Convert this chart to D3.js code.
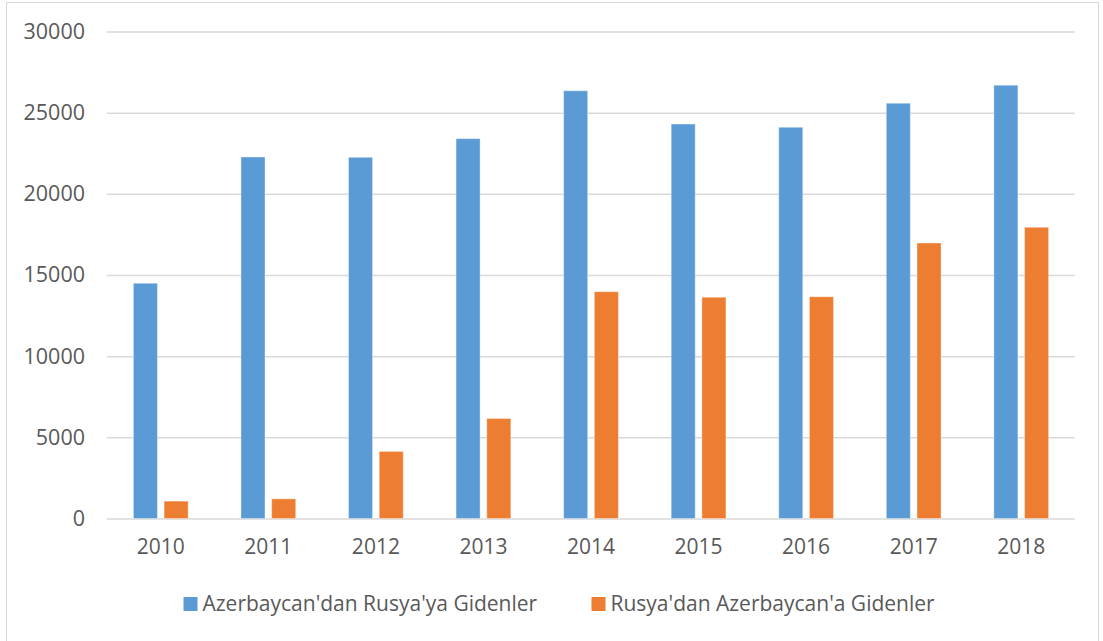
<!DOCTYPE html>
<html>
<head>
<meta charset="utf-8">
<script src="https://cdn.jsdelivr.net/npm/d3@7"></script>
<style>
  html, body { margin: 0; padding: 0; background: #fff; }
  svg text { font-family: "Open Sans", sans-serif; fill: #595959; }
</style>
</head>
<body>
<div id="chart"></div>
<script>
// Data
const years = ["2010", "2011", "2012", "2013", "2014", "2015", "2016", "2017", "2018"];
const seriesNames = ["Azerbaycan'dan Rusya'ya Gidenler", "Rusya'dan Azerbaycan'a Gidenler"];
const azToRu = [14490, 22270, 22250, 23400, 26350, 24300, 24100, 25580, 26690];
const ruToAz = [1070, 1210, 4130, 6160, 13970, 13630, 13660, 16970, 17940];
const yTicks = [0, 5000, 10000, 15000, 20000, 25000, 30000];
const colors = ["#5B9BD5", "#ED7D31"];

const W = 1103, H = 641;
const margin = { top: 31.5, right: 28, bottom: 122.5, left: 107 };
const width = W - margin.left - margin.right;
const height = H - margin.top - margin.bottom;

const svg = d3.select("#chart")
  .append("svg")
    .attr("width", W)
    .attr("height", H);

// outer frame
svg.append("rect")
    .attr("x", 6.5).attr("y", 2.5)
    .attr("width", W - 11).attr("height", H + 10)
    .attr("fill", "none")
    .attr("stroke", "#D9D9D9")
    .attr("stroke-width", 1);

const g = svg.append("g")
    .attr("transform", `translate(${margin.left},${margin.top})`);

// Scales
const x = d3.scaleBand()
    .domain(years)
    .range([0, width])
    .padding(0);

const xSub = d3.scaleBand()
    .domain(seriesNames)
    .range([0, x.bandwidth()])
    .paddingInner(0.218)
    .paddingOuter(0.86);

const y = d3.scaleLinear()
    .domain([0, 30000])
    .range([height, 0]);

const color = d3.scaleOrdinal().domain(seriesNames).range(colors);

// Gridlines + y labels
const yAxis = g.append("g")
    .call(d3.axisLeft(y).tickValues(yTicks).tickFormat(d3.format("d")).tickSize(-width).tickPadding(22));
yAxis.select(".domain").remove();
yAxis.selectAll(".tick line")
    .attr("stroke", "#D9D9D9")
    .attr("stroke-width", 1.5);
yAxis.selectAll(".tick text")
    .attr("font-size", "21.5px")
    .style("font-family", "'Open Sans', sans-serif")
    .attr("fill", "#595959");

// X axis labels
const xAxis = g.append("g")
    .attr("transform", `translate(0,${height})`)
    .call(d3.axisBottom(x).tickSize(0).tickPadding(21));
xAxis.select(".domain").remove();
xAxis.selectAll(".tick text")
    .attr("font-size", "21px")
    .style("font-family", "'Open Sans', sans-serif")
    .attr("fill", "#595959");

// Bars
const rows = years.map((yr, i) => ({ year: yr, values: [azToRu[i], ruToAz[i]] }));

g.append("g").selectAll("g")
    .data(rows)
    .join("g")
      .attr("transform", d => `translate(${x(d.year)},0)`)
    .selectAll("rect")
    .data(d => seriesNames.map((s, j) => ({ key: s, value: d.values[j] })))
    .join("rect")
      .attr("x", d => xSub(d.key))
      .attr("y", d => y(d.value))
      .attr("width", xSub.bandwidth())
      .attr("height", d => y(0) - y(d.value))
      .attr("fill", d => color(d.key))
      .attr("stroke", "#ffffff")
      .attr("stroke-opacity", 0.35)
      .attr("stroke-width", 1);

// Legend
const legendX = [183.5, 591.5];
const legend = svg.append("g").selectAll("g")
    .data(seriesNames)
    .join("g")
      .attr("transform", (d, i) => `translate(${legendX[i]},597)`);

legend.append("rect")
    .attr("width", 14)
    .attr("height", 14)
    .attr("fill", d => color(d));

legend.append("text")
    .attr("x", 19)
    .attr("y", 7)
    .attr("dy", "0.35em")
    .attr("font-size", "21px")
    .text(d => d);
</script>
</body>
</html>
